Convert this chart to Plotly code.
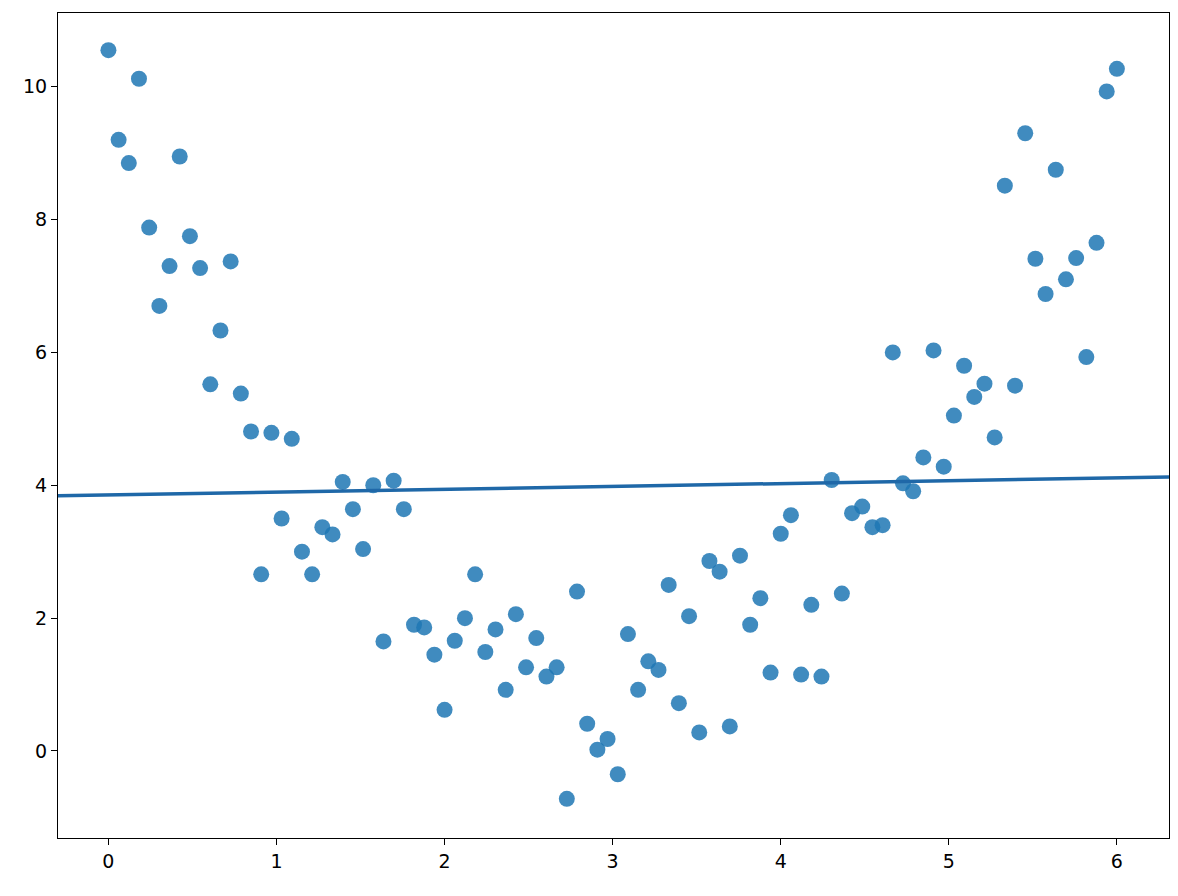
import numpy as np
import plotly.graph_objects as go

x = np.linspace(0, 6, 100)
y = [10.55, 9.2, 8.85, 10.12, 7.88, 6.7, 7.3, 8.95, 7.75, 7.27,
     5.52, 6.33, 7.37, 5.38, 4.81, 2.66, 4.79, 3.5, 4.7, 3.0,
     2.66, 3.37, 3.26, 4.05, 3.64, 3.04, 4.0, 1.65, 4.07, 3.64,
     1.9, 1.86, 1.45, 0.62, 1.66, 2.0, 2.66, 1.49, 1.83, 0.92,
     2.06, 1.26, 1.7, 1.12, 1.26, -0.72, 2.4, 0.41, 0.02, 0.18,
     -0.35, 1.76, 0.92, 1.35, 1.22, 2.5, 0.72, 2.03, 0.28, 2.86,
     2.7, 0.37, 2.94, 1.9, 2.3, 1.18, 3.27, 3.55, 1.15, 2.2,
     1.12, 4.08, 2.37, 3.58, 3.68, 3.37, 3.4, 6.0, 4.03, 3.91,
     4.42, 6.03, 4.28, 5.05, 5.8, 5.33, 5.53, 4.72, 8.51, 5.5,
     9.3, 7.41, 6.88, 8.75, 7.1, 7.42, 5.93, 7.65, 9.93, 10.27]

# linear fit like a regression plot
slope, intercept = np.polyfit(x, y, 1)
xl = np.array([-0.3, 6.31])
yl = slope * xl + intercept

fig = go.Figure()
fig.add_trace(go.Scatter(x=x, y=y, mode='markers',
                         marker=dict(size=16, color='rgba(31,119,180,0.85)',
                                     line=dict(width=0))))
fig.add_trace(go.Scatter(x=xl, y=yl, mode='lines',
                         line=dict(color='#1f68a8', width=3.5)))

axis = dict(showgrid=False, zeroline=False, showline=True, mirror=True,
            linecolor='black', linewidth=1.2, ticks='outside', ticklen=6,
            tickcolor='black', tickfont=dict(family='DejaVu Sans', size=19, color='black'))
fig.update_xaxes(range=[-0.3, 6.31], tickvals=[0, 1, 2, 3, 4, 5, 6], **axis)
fig.update_yaxes(range=[-1.31, 11.11], tickvals=[0, 2, 4, 6, 8, 10], **axis)
fig.update_layout(width=1178, height=896, showlegend=False,
                  plot_bgcolor='white', paper_bgcolor='white',
                  margin=dict(l=50, r=17, t=5, b=66))
fig.write_html("out.html")
